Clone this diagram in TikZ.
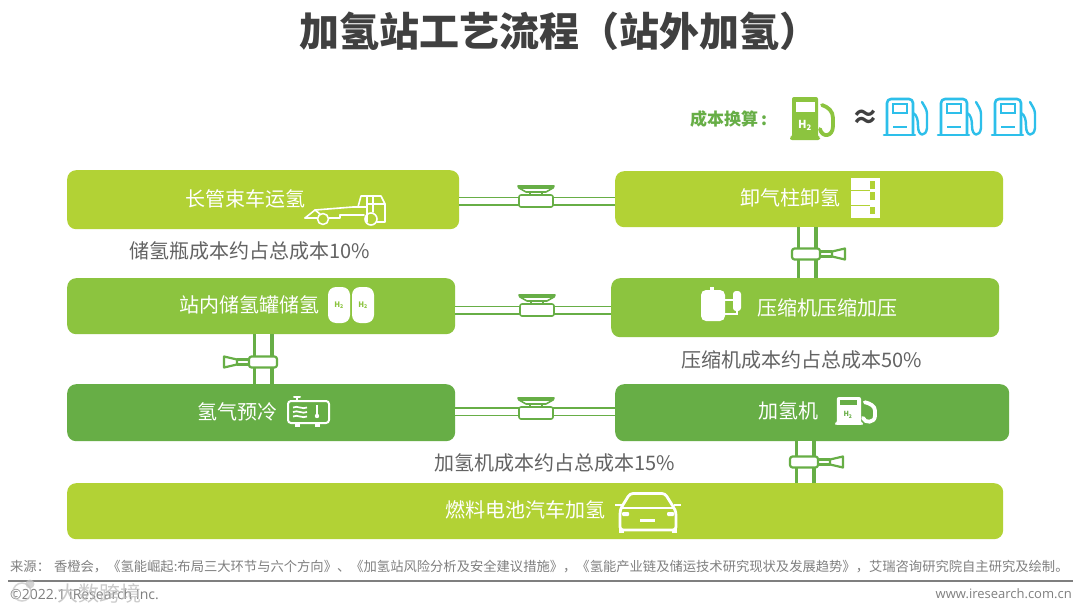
\documentclass[tikz,border=0pt]{standalone}
\usepackage{fontspec}
\setmainfont{Noto Sans CJK SC}
\newfontfamily\latinf{Open Sans}
\usetikzlibrary{calc}
\definecolor{lgreen}{HTML}{B2D235}
\definecolor{mgreen}{HTML}{8CC43F}
\definecolor{dgreen}{HTML}{67AE46}
\definecolor{pipeg}{HTML}{67AE46}
\definecolor{bluep}{HTML}{2DBFEA}
\definecolor{titlec}{HTML}{404040}
\definecolor{capc}{HTML}{636363}
\definecolor{srcc}{HTML}{7F7F7F}
\tikzset{
  x=1pt,y=-1pt,
  box/.style={rounded corners=9pt,inner sep=0pt,draw=none,anchor=north west},
  boxtext/.style={text=white,font=\fontsize{20}{20}\selectfont,inner sep=0pt},
  captext/.style={text=capc,font=\fontsize{20}{20}\selectfont,inner sep=0pt},
  hpipe/.style={draw=pipeg,line width=9pt,postaction={draw=white,line width=6pt}},
  vpipe/.style={draw=pipeg,line width=21pt,postaction={draw=white,line width=14pt}},
  vline/.style={draw=pipeg,line width=1.6pt,fill=white,line join=round},
  vlinev/.style={draw=pipeg,line width=2.2pt,fill=white,line join=round},
  iconw/.style={draw=white,line width=1.6pt,fill=none,line cap=round,line join=round},
  hvalve/.pic={
    \draw[vline] (-6,-5) rectangle (6,-9);
    \draw[vline] (-18,-15) -- (18,-15) -- (17,-13) -- (10,-9) -- (-10,-9) -- (-17,-13) -- cycle;
    \draw[vline] (-17,-13) -- (17,-13);
    \draw[vline,rounded corners=2pt] (-17,-6) rectangle (17,6);
  },
  vvalve/.pic={
    \draw[vlinev] (13,-2.5) rectangle (26,2.5);
    \draw[vlinev] (26,-2.5) -- (39,-5.5) -- (39,5.5) -- (26,2.5) -- cycle;
    \draw[vlinev,rounded corners=2.5pt] (-14,-5.5) rectangle (14,5.5);
  },
  pics/pumpfill/.style={code={
    \fill[#1,rounded corners=2pt] (2,0) -- (28,0) -- (28,40) -- (30,40) -- (30,43) -- (0,43) -- (0,40) -- (2,40) -- cycle;
    \draw[#1,line width=3.8pt,line cap=round,line join=round]
      (32,8) .. controls (38,10) and (43,14) .. (43,21) -- (43,29) .. controls (43,40) and (32,41) .. (30,32);
  }},
  pics/pumpline/.style={code={
    \draw[#1,line width=2.6pt,line join=round,rounded corners=4pt,fill=none]
       (3,36) -- (3,1) -- (29,1) -- (29,36);
    \draw[#1,line width=2.6pt,line cap=round] (0,37) -- (31,37);
    \draw[#1,line width=2.2pt] (9,6) rectangle (23,15);
    \draw[#1,line width=2.2pt] (9,29) -- (23,29);
    \draw[#1,line width=2.4pt,line cap=round,line join=round]
      (29,15) .. controls (33,17) and (34,22) .. (34,28) .. controls (34,39) and (42,39) .. (43,30) -- (43,16) .. controls (43,11) and (40,8) .. (38,4);
  }}
}
\begin{document}
\begin{tikzpicture}
\useasboundingbox (0,0) rectangle (1080,613);
\fill[white] (0,0) rectangle (1080,613);

% boxes
\node[box,fill=lgreen,minimum width=392pt,minimum height=59pt] (A) at (67,170) {};
\node[box,fill=lgreen,minimum width=388pt,minimum height=56pt] (B) at (615,171) {};
\node[box,fill=mgreen,minimum width=388pt,minimum height=56pt] (C) at (67,278) {};
\node[box,fill=mgreen,minimum width=388pt,minimum height=59pt] (D) at (611,278) {};
\node[box,fill=dgreen,minimum width=388pt,minimum height=57pt] (E) at (67,384) {};
\node[box,fill=dgreen,minimum width=394pt,minimum height=57pt] (F) at (615,384) {};
\node[box,fill=lgreen,minimum width=936pt,minimum height=56pt] (G) at (67,483) {};

% pipes
\draw[hpipe] ($(A.east)+(0,1.5)$) -- ($(B.west)+(0,2)$);
\draw[hpipe] ($(C.east)+(0,4)$) -- ($(C.east)+(156,4)$);
\draw[hpipe] ($(E.east)+(0,-1)$) -- ($(F.west)+(0,-1)$);
\coordinate (bdt) at ([xshift=192pt]B.south west);
\coordinate (bdb) at ([xshift=196pt]D.north west);
\draw[vpipe] (bdt) -- (bdb);
\coordinate (cet) at ([xshift=196pt]C.south west);
\coordinate (ceb) at ([xshift=196pt]E.north west);
\draw[vpipe] (cet) -- (ceb);
\coordinate (fgt) at ([xshift=190pt]F.south west);
\coordinate (fgb) at ([xshift=738pt]G.north west);
\draw[vpipe] (fgt) -- (fgb);

% valves
\pic at (536,201) {hvalve};
\pic at (537,310) {hvalve};
\pic at (536,413) {hvalve};
\pic at (806,254) {vvalve};
\pic[xscale=-1] at (263,362) {vvalve};
\pic at (804,462) {vvalve};

% title and texts
\node[inner sep=0pt,text=titlec,font=\fontsize{40}{40}\selectfont\bfseries] (title) at (559,31) {加氢站工艺流程（站外加氢）};
\node[boxtext] (ta) at (245,199) {长管束车运氢};
\node[boxtext] (tb) at (790,198) {卸气柱卸氢};
\node[boxtext] (tc) at (249,305) {站内储氢罐储氢};
\node[boxtext] (td) at (827,308) {压缩机压缩加压};
\node[boxtext] (te) at (237,412) {氢气预冷};
\node[boxtext] (tf) at (788,411) {加氢机};
\node[boxtext] (tg) at (525,510) {燃料电池汽车加氢};
\node[captext] (c1) at (250,251) {储氢瓶成本约占总成本10\%};
\node[captext] (c2) at (802,360) {压缩机成本约占总成本50\%};
\node[captext] (c3) at (555,463) {加氢机成本约占总成本15\%};
\node[inner sep=0pt,anchor=west,text=dgreen,font=\fontsize{17}{17}\selectfont\bfseries] (cost) at (690,119) {成本换算\,:};
\node[inner sep=0pt,text=titlec,font=\fontsize{28}{28}\selectfont\bfseries] (approx) at (865,119) {≈};

% green pump
\pic at (790,97) {pumpfill=mgreen};
\fill[white] (796,102) rectangle (815,112);
\node[inner sep=0pt,text=white,font=\fontsize{11}{11}\selectfont\bfseries] (h2a) at (805,125) {H\textsubscript{2}};

% blue pumps
\pic at (884,98) {pumpline=bluep};
\pic at (938,98) {pumpline=bluep};
\pic at (992,98) {pumpline=bluep};

% truck
\draw[iconw] (305,218) -- (315,210) -- (353,207) -- (367,207);
\draw[iconw] (305,218) -- (317,218);
\draw[iconw] (329,218) -- (340,218) -- (340,215) -- (364,215);
\draw[iconw] (315,210) -- (320,214);
\draw[iconw] (358,207) -- (361,196) -- (367,196) -- (367,207);
\draw[iconw] (367,222) -- (367,196) -- (381,196) -- (385,204) -- (385,222) -- (377,222);
\draw[iconw] (373,196) -- (373,212);
\draw[iconw] (367,204) -- (385,204);
\draw[iconw] (323,219) circle (5.5);
\draw[iconw] (371,219) circle (6);

% column icon
\fill[white] (851,178) rectangle (880,218);
\fill[lgreen] (870,181) rectangle (875,189);
\fill[lgreen] (870,192) rectangle (875,200);
\fill[lgreen] (870,207) rectangle (875,214);
\draw[lgreen,line width=.5pt] (851,190) -- (870,190);
\draw[lgreen,line width=.5pt] (851,205) -- (870,205);

% tanks
\foreach \tx/\nm in {328/h2b,352/h2c}{
  \fill[white,rounded corners=8pt] (\tx,287) rectangle ++(22,36);
  \node[inner sep=0pt,text=mgreen,font=\fontsize{7.5}{7.5}\selectfont\bfseries] (\nm) at (\tx+11,305) {H\textsubscript{2}};
}

% compressor
\fill[white,rounded corners=5pt] (701,290) rectangle (725,321);
\fill[white] (710,287) rectangle (714,291);
\fill[white,rounded corners=3pt] (733,291) rectangle (741,311);
\draw[white,line width=1.2pt] (725,300) -- (733,300);
\draw[white,line width=1.2pt] (725,314) -- (737,314) -- (737,310);

% cooler
\draw[iconw,line width=2pt,rounded corners=3pt] (288,401) rectangle (329,423);
\draw[iconw,line width=2pt] (297,398) -- (297,401);
\draw[iconw,line width=2pt] (294,397) -- (300,397);
\fill[white] (295,423) rectangle (300,427);
\fill[white] (315,423) rectangle (320,427);
\foreach \yy in {407.5,412,416.5}{
  \draw[white,line width=1.7pt] (293,\yy) .. controls (297,\yy-2.4) and (303,\yy+2.4) .. (307,\yy);
}
\draw[white,line width=1.4pt] (317,405) -- (317,414);
\fill[white] (317,416) circle (2.2);

% dispenser on F
\pic[xscale=.93,yscale=.65] at (835,397) {pumpfill=white};
\fill[dgreen] (840,400) rectangle (857,405);
\node[inner sep=0pt,text=dgreen,font=\fontsize{7}{7}\selectfont\bfseries] (h2d) at (848,415) {H\textsubscript{2}};

% car
\draw[white,line width=2.8pt,line join=round,rounded corners=3pt,fill=none]
  (621,508) -- (630,493.5) -- (665,493.5) -- (674,508) -- (676,512) -- (676,530) -- (620,530) -- (620,512) -- cycle;
\draw[white,line width=2.4pt] (621,508) -- (674,508);
\draw[white,line width=2.6pt] (615,505) -- (622,505);
\draw[white,line width=2.6pt] (674,505) -- (681,505);
\fill[white] (619,529) rectangle (624,533);
\fill[white] (672,529) rectangle (677,533);
\fill[white,rounded corners=1pt] (622,512) rectangle (629,516);
\fill[white,rounded corners=1pt] (667,512) rectangle (674,516);
\fill[white] (640,519) rectangle (655,521.5);

% footer
\node[inner sep=0pt,anchor=west,text=srcc,font=\fontsize{13.3}{13.3}\selectfont] (src) at (10,567) {来源：\hspace{4pt}香橙会，《氢能崛起:布局三大环节与六个方向》、《加氢站风险分析及安全建议措施》，《氢能产业链及储运技术研究现状及发展趋势》，艾瑞咨询研究院自主研究及绘制。};
\coordinate (r1) at (8,581);
\coordinate (r2) at (1073,581);
\draw[draw=srcc,line width=1.2pt] (r1) -- (r2);
\node[inner sep=0pt,anchor=west,text=srcc,font=\latinf\fontsize{14}{14}\selectfont] (copy) at (10,594) {©2022.1 iResearch Inc.};
\node[inner sep=0pt,anchor=east,text=srcc,font=\latinf\fontsize{13}{13}\selectfont] (web) at (1072,594) {www.iresearch.com.cn};
\node[inner sep=0pt,anchor=west,text=gray!55,opacity=.75,font=\fontsize{21}{21}\selectfont] (wm) at (57,593) {大数跨境};
\draw[gray!45,line width=1.5pt,opacity=.75] (22,592) circle (9);
\fill[gray!45,opacity=.75] (30,584) circle (4.5);
\end{tikzpicture}
\end{document}
